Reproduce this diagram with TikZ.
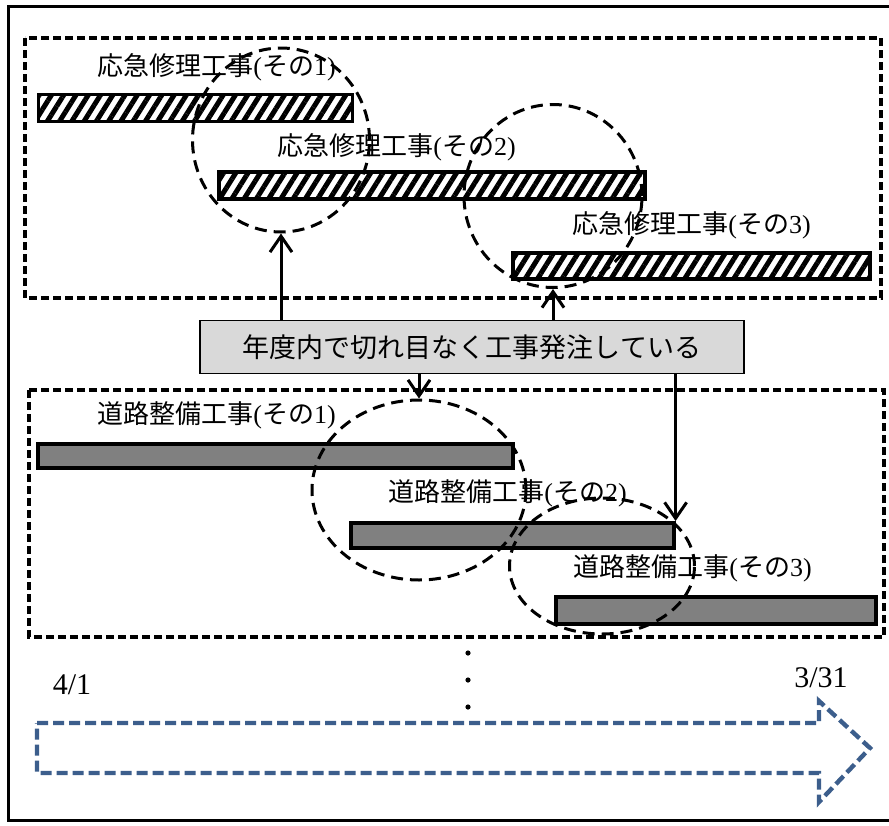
\documentclass[tikz,border=0pt]{standalone}
\usepackage{fontspec}
\setmainfont{Liberation Serif}
\newfontfamily\jp{Noto Sans CJK JP}
\usepackage{tikz}
\usetikzlibrary{shapes.geometric, arrows.meta, patterns.meta}
\definecolor{timeblue}{RGB}{60, 94, 140}
\definecolor{roadgray}{RGB}{128, 128, 128}
\definecolor{ordergray}{RGB}{217, 217, 217}

\begin{document}
\begin{tikzpicture}[
    x=0.5pt, y=-0.5pt,
    group/.style={draw, line width=1.8pt, dash pattern=on 4pt off 2pt},
    repair/.style={rectangle, draw, line width=1.8pt, anchor=north west, inner sep=0pt, pattern={Lines[angle=58, distance=5.2pt, line width=2.5pt]}},
    road/.style={rectangle, draw, line width=1.8pt, anchor=north west, inner sep=0pt, fill=roadgray},
    work/.style={anchor=west, inner sep=0pt, font=\fontsize{13pt}{15pt}\selectfont},
    ring/.style={ellipse, draw, line width=1.5pt, dash pattern=on 6pt off 3.5pt, inner sep=0pt},
    order/.style={rectangle, draw, line width=0.8pt, fill=ordergray, minimum width=272pt, minimum height=26.5pt, font=\jp\fontsize{13.5pt}{16pt}\selectfont},
    date/.style={inner sep=0pt, font=\fontsize{15pt}{17pt}\selectfont},
    timeline/.style={draw=timeblue, line width=2.2pt, dash pattern=on 5.5pt off 2.5pt},
    arrow/.style={-{Straight Barb[length=8pt, width=11pt]}, line width=1.5pt}
]
\path[fill=white, use as bounding box] (0,0) rectangle (889,825);

% Frame
\draw[line width=1.5pt] (889,6) -| (8,820) -- (889,820);

% Groups
\draw[group] (25,38) rectangle (881,298);
\draw[group] (29,390) rectangle (884,637);

% Emergency repair works
\node[repair, minimum width=157pt, minimum height=13.5pt] (fix1) at (36,92) {};
\node[repair, minimum width=213pt, minimum height=13.5pt] (fix2) at (217,170) {};
\node[repair, minimum width=178.5pt, minimum height=13pt] (fix3) at (511,251) {};
\node[work] (fix1label) at (97,67) {{\jp 応急修理工事}({\jp その}1)};
\node[work] (fix2label) at (277,147) {{\jp 応急修理工事}({\jp その}2)};
\node[work] (fix3label) at (572,225) {{\jp 応急修理工事}({\jp その}3)};

% Road works
\node[road, minimum width=237.5pt, minimum height=12pt] (road1) at (36,442) {};
\node[road, minimum width=161.5pt, minimum height=12.5pt] (road2) at (349,521) {};
\node[road, minimum width=160pt, minimum height=13.5pt] (road3) at (554,595) {};
\node[work] (road1label) at (97,415) {{\jp 道路整備工事}({\jp その}1)};
\node[work] (road2label) at (388,493) {{\jp 道路整備工事}({\jp その}2)};
\node[work] (road3label) at (573,568) {{\jp 道路整備工事}({\jp その}3)};

% Gaps
\node[ring, minimum width=88.5pt, minimum height=92pt] (cir1) at (281,140) {};
\node[ring, minimum width=89pt, minimum height=91.5pt] (cir2) at (553,196) {};
\node[ring, minimum width=107pt, minimum height=90pt] (cir3) at (419,490) {};
\node[ring, minimum width=92.5pt, minimum height=68pt] (cir4) at (602,566) {};

% Ordering
\node[order] (order) at (472,347) {年度内で切れ目なく工事発注している};
\draw[arrow] (order.north -| cir1.south) -- (cir1.south);
\draw[arrow] (order.north -| cir2.south) -- (cir2.south);
\draw[arrow] (order.south -| cir3.north) -- (cir3.north);
\draw[arrow] (order.south -| road2.north east) -- (road2.north east);

% Fiscal year
\foreach \y in {653,680,707}
    \fill (468,\y) circle (1.3pt);
\draw[timeline] (37,723) -- (819,723) -- (819,701) -- (870,748) -- (819,802) -- (819,773) -- (37,773) -- cycle;
\node[date] (start) at (72,685) {4/1};
\node[date] (end) at (821,678) {3/31};
\end{tikzpicture}
\end{document}
